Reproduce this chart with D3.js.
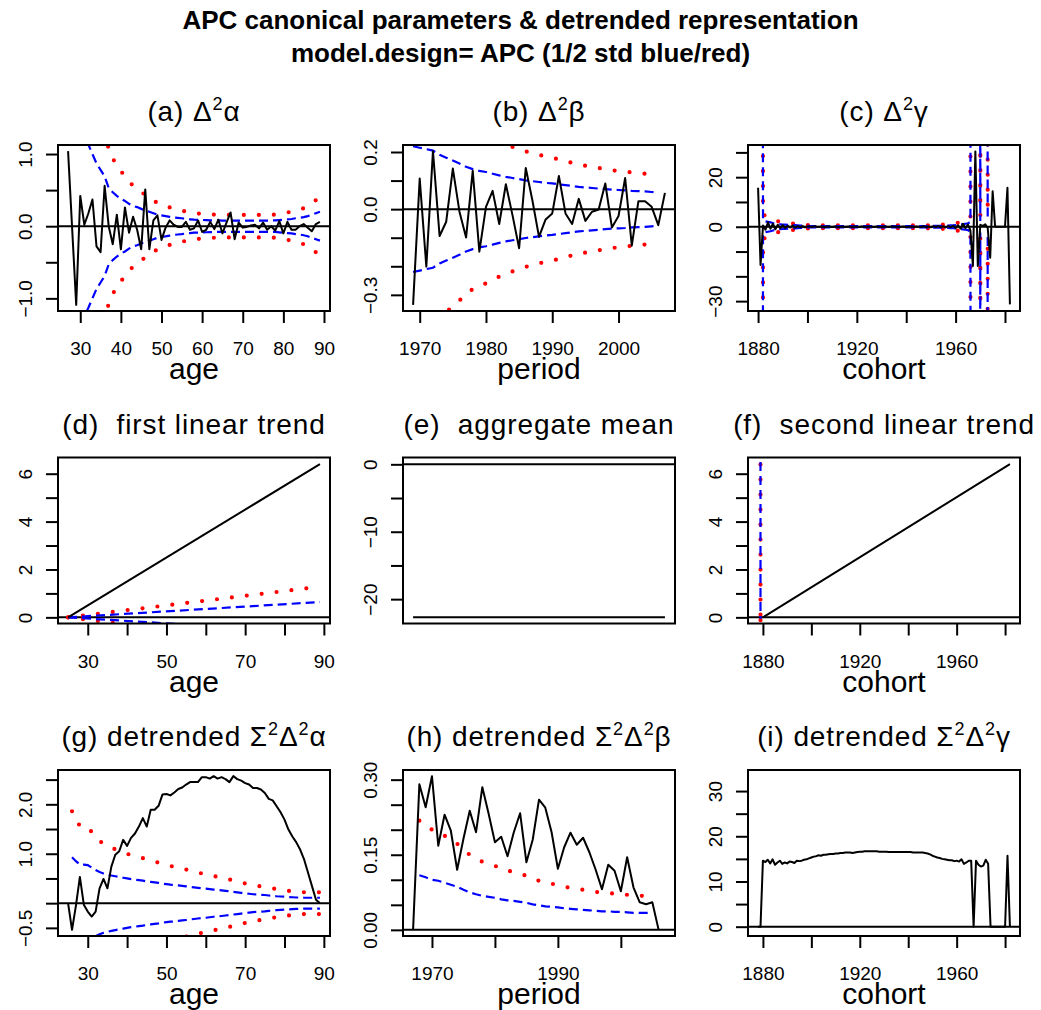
<!DOCTYPE html>
<html>
<head>
<meta charset="utf-8">
<script src="https://cdn.jsdelivr.net/npm/d3@7"></script>
<style>
body { margin: 0; background: #fff; }
svg { font-family: "Liberation Sans", Arial, Helvetica, sans-serif; }
text { white-space: pre; }
</style>
</head>
<body>
<script>
// values

// (a) double differences of age effect, ages 27..89
var agesA = d3.range(27, 90)
var dAlpha = [1.04, -0.03, -1.09, 0.42, 0.02, 0.18, 0.37, -0.28, -0.36, 0.56,
    0.0, -0.25, 0.16, -0.32, 0.26, -0.09, 0.13, -0.05, -0.32, 0.51,
    -0.32, 0.08, 0.15, -0.19, -0.02, 0.08, 0.02, -0.01, -0.01, 0.06,
    -0.05, -0.03, 0.08, -0.08, -0.05, 0.06, -0.04, 0.09, -0.10, 0.05,
    0.19, -0.18, 0.05, -0.02, -0.01, 0.01, 0.02, -0.03, 0.05, -0.05,
    0.0, -0.06, 0.07, -0.10, 0.06, -0.05, -0.05, 0.0, 0.03, -0.02,
    -0.07, 0.03, 0.06]
var sdAlpha = [2.5, 2.0, 1.6, 1.4, 1.25, 1.13, 1.0, 0.87, 0.78, 0.69,
    0.53, 0.47, 0.42, 0.38, 0.35, 0.31, 0.28, 0.265, 0.24, 0.215,
    0.2, 0.18, 0.16, 0.15, 0.14, 0.13, 0.12, 0.115, 0.11, 0.1,
    0.095, 0.09, 0.088, 0.086, 0.084, 0.082, 0.08, 0.08, 0.078, 0.078,
    0.078, 0.078, 0.078, 0.078, 0.078, 0.078, 0.078, 0.078, 0.078, 0.078,
    0.079, 0.08, 0.085, 0.09, 0.095, 0.1, 0.11, 0.115, 0.125, 0.14,
    0.16, 0.18, 0.2]

// (b) period, 1969..2007
var periodsB = d3.range(1969, 2008)
var dBeta = [-0.335, 0.107, -0.201, 0.203, -0.094, -0.044, 0.142, -0.009, -0.099, 0.134,
    -0.149, 0.008, 0.064, -0.052, 0.087, -0.021, -0.137, 0.144, 0.031, -0.097,
    -0.036, -0.015, 0.116, -0.015, -0.052, 0.036, -0.041, -0.009, -0.001, 0.09,
    -0.064, -0.024, 0.109, -0.128, 0.028, 0.028, 0.008, -0.056, 0.057]
var sdPeriodsB = d3.range(1969, 2007)
var sdBeta = [0.22, 0.215, 0.21, 0.205, 0.19, 0.18, 0.17, 0.16, 0.148, 0.14,
    0.134, 0.13, 0.124, 0.118, 0.113, 0.109, 0.105, 0.101, 0.098, 0.095,
    0.092, 0.09, 0.087, 0.084, 0.081, 0.078, 0.076, 0.074, 0.072, 0.07,
    0.068, 0.067, 0.066, 0.064, 0.063, 0.062, 0.06, 0.058]

// (c) cohort, 1880..1982
var cohortsC = d3.range(1880, 1983)
var dGamma = [15.7, -15.4, 0.5, -1.2, 1.8, -0.8, 1.2, -1.0, 0.8, -0.6,
    0.7, -0.5, 0.4, -0.3, 0.5, -0.4, 0.3, -0.2, 0.2, -0.2, 0.1,
    0.1, -0.1, 0.2, -0.1, 0.0, 0.1, -0.2, 0.1, 0.0, -0.1,
    0.1, 0.0, -0.1, 0.1, -0.1, 0.0, 0.1, -0.1, 0.1, 0.0,
    -0.1, 0.1, 0.0, -0.1, 0.1, 0.0, -0.1, 0.1, 0.0, -0.1,
    0.1, 0.0, -0.1, 0.1, 0.0, 0.1, -0.1, 0.0, 0.1, -0.1,
    0.0, 0.1, -0.1, 0.1, 0.0, -0.1, 0.2, -0.1, 0.1, -0.2,
    0.2, -0.1, 0.3, -0.2, 0.2, -0.3, 0.3, -0.2, 0.4,
    -0.5, 0.6, -0.8, 1.2, -0.6, 0.9, -1.5, -15.8, 30.4, -15.8,
    0.8, 0.3, 1.0, -0.5, -12.5, 14.3, 0, 0, 0, 0,
    0, 15.7, -31.3]
// 1000 stands for the exploding std the reference shows as vertical lines
var sdCohortsC = d3.range(1880, 1974)
var sdGamma = [1000, 1000, 2.5, 2.2, 2.0, 1.8, 1.5, 1.3, 1.1, 1.0, 0.9,
    0.85, 0.8, 0.72, 0.66, 0.62, 0.58, 0.5, 0.45, 0.4, 0.35,
    0.3, 0.29, 0.28, 0.28, 0.28, 0.28, 0.28, 0.28, 0.28, 0.28,
    0.28, 0.28, 0.28, 0.28, 0.28, 0.28, 0.28, 0.28, 0.28, 0.28,
    0.28, 0.28, 0.28, 0.28, 0.28, 0.28, 0.28, 0.28, 0.28, 0.28,
    0.28, 0.28, 0.28, 0.28, 0.28, 0.28, 0.28, 0.28, 0.28, 0.28,
    0.28, 0.28, 0.28, 0.28, 0.28, 0.28, 0.29, 0.3, 0.31, 0.32,
    0.34, 0.36, 0.38, 0.4, 0.43, 0.46, 0.5, 0.55, 0.6, 0.7,
    0.8, 0.9, 1.05, 1.2, 1.35, 2.0, 1000, 1000, 1000, 2.3,
    1000, 1000, 2.5]

// (d) first linear trend
var trendAgeX = [25, 89]
var trendAgeY = [0, 6.4]
var trendAgeSd = [0, 0.64]

// (e) aggregate mean
var meanX = [1969, 2007]
var meanY = [-22.7, -22.7]

// (f) second linear trend
var trendCohX = [1880, 1982]
var trendCohY = [0, 6.4]
var trendCohSdX = [1878, 1879]
var trendCohSd = [1000, 0]

// (g) detrended age, 25..89
var agesG = d3.range(25, 90)
var detAlpha = [0, -0.54, -0.05, 0.53, -0.03,
    -0.17, -0.27, -0.17, 0.30, 0.49, 0.30, 0.74, 0.98, 1.05, 1.28,
    1.16, 1.32, 1.41, 1.55, 1.72, 1.55, 1.89, 1.89, 1.97, 2.20,
    2.21, 2.18, 2.24, 2.31, 2.34, 2.40, 2.45, 2.45, 2.45, 2.55,
    2.55, 2.52, 2.57, 2.52, 2.55, 2.51, 2.45, 2.57, 2.51, 2.48,
    2.43, 2.40, 2.33, 2.33, 2.30, 2.23, 2.11, 2.08, 1.96, 1.84,
    1.69, 1.49, 1.35, 1.23, 1.08, 0.88, 0.61, 0.34, 0.07, 0]
var sdAgesG = d3.range(26, 90)
var sdDetAlpha = [0.93, 0.85, 0.78, 0.78,
    0.77, 0.72, 0.67, 0.63, 0.6, 0.58, 0.56, 0.545, 0.53, 0.515,
    0.5, 0.485, 0.475, 0.465, 0.455, 0.44, 0.43, 0.42, 0.41, 0.395,
    0.385, 0.375, 0.37, 0.36, 0.35, 0.34, 0.33, 0.32, 0.31, 0.3,
    0.295, 0.285, 0.275, 0.265, 0.26, 0.25, 0.24, 0.23, 0.22, 0.21,
    0.2, 0.19, 0.18, 0.175, 0.17, 0.165, 0.155, 0.15, 0.14, 0.135,
    0.13, 0.125, 0.12, 0.115, 0.115, 0.11, 0.11, 0.11, 0.11, 0.11]

// (h) detrended period, 1967..2006
var periodsH = d3.range(1967, 2007)
var detBeta = [0, 0.291, 0.245, 0.307, 0.168, 0.230, 0.198, 0.120, 0.182, 0.238,
    0.195, 0.285, 0.232, 0.175, 0.186, 0.147, 0.195, 0.233, 0.135, 0.180,
    0.26, 0.244, 0.195, 0.122, 0.165, 0.194, 0.170, 0.184, 0.155, 0.120,
    0.081, 0.130, 0.118, 0.077, 0.145, 0.085, 0.055, 0.051, 0.055, 0]
var sdPeriodsH = d3.range(1968, 2006)
var sdDetBeta = [0.109, 0.105, 0.1, 0.098, 0.094, 0.09, 0.086, 0.08, 0.075, 0.071,
    0.068, 0.066, 0.064, 0.061, 0.059, 0.058, 0.056, 0.054, 0.051, 0.049,
    0.047, 0.046, 0.045, 0.043, 0.042, 0.041, 0.04, 0.039, 0.038, 0.037,
    0.037, 0.036, 0.036, 0.035, 0.034, 0.034, 0.034, 0.034]

// (i) detrended cohort, 1878..1982
var cohortsI = d3.range(1878, 1983)
var detGamma = [0, 0, 14.6, 14.3, 14.8, 14.0, 14.9, 13.7, 14.2, 14.6, 13.9, 14.2,
    14.0, 14.4, 14.3, 14.1, 14.6, 14.5, 14.6, 14.8, 14.9, 15.1,
    15.3, 15.5, 15.6, 15.8, 15.7, 15.9, 15.9, 16.0, 16.1, 16.1,
    16.2, 16.2, 16.3, 16.3, 16.4, 16.4, 16.4, 16.3, 16.4, 16.5,
    16.6, 16.6, 16.7, 16.7, 16.7, 16.7, 16.7, 16.7, 16.6, 16.6,
    16.6, 16.6, 16.5, 16.5, 16.5, 16.5, 16.5, 16.5, 16.5, 16.5,
    16.5, 16.5, 16.4, 16.4, 16.4, 16.4, 16.4, 16.3, 16.2, 16.0,
    15.7, 15.5, 15.3, 15.2, 15.0, 14.9, 14.8, 14.7, 14.7, 14.5,
    14.6, 14.4, 14.9, 13.9, 14.2, 14.6, 14.6, 0, 14.6, 13.7,
    13.3, 13.5, 14.8, 13.9, 0, 0, 0, 0, 0, 0,
    0, 15.7, 0]

// axis ticks and labels (R drops some labels, so blanks are kept)
var ageTicks = [30, 40, 50, 60, 70, 80, 90]
var ageLabelsAll = ['30', '40', '50', '60', '70', '80', '90']
var ageLabelsSome = ['30', '', '50', '', '70', '', '90']
var periodTicks = [1970, 1980, 1990, 2000]
var periodLabelsAll = ['1970', '1980', '1990', '2000']
var periodLabelsSome = ['1970', '', '1990', '']
var cohortTicks = [1880, 1900, 1920, 1940, 1960, 1980]
var cohortLabels = ['1880', '', '1920', '', '1960', '']

var panels = [
    { title: [['(a) Δ', 0], ['2', 1], ['α', 0]], xlab: 'age',
      xlim: [27, 89], ylim: [-1.09, 1.04],
      xt: ageTicks, xl: ageLabelsAll,
      yt: [-1, -0.5, 0, 0.5, 1], yl: ['−1.0', '', '0.0', '', '1.0'],
      x: agesA, y: dAlpha, sdx: agesA, sd: sdAlpha },
    { title: [['(b) Δ', 0], ['2', 1], ['β', 0]], xlab: 'period',
      xlim: [1969, 2007], ylim: [-0.335, 0.203],
      xt: periodTicks, xl: periodLabelsAll,
      yt: [-0.3, -0.2, -0.1, 0, 0.1, 0.2], yl: ['−0.3', '', '', '0.0', '', '0.2'],
      x: periodsB, y: dBeta, sdx: sdPeriodsB, sd: sdBeta },
    { title: [['(c) Δ', 0], ['2', 1], ['γ', 0]], xlab: 'cohort',
      xlim: [1880, 1982], ylim: [-31.5, 30.5],
      xt: cohortTicks, xl: cohortLabels,
      yt: [-30, -20, -10, 0, 10, 20, 30], yl: ['−30', '', '', '0', '', '20', ''],
      x: cohortsC, y: dGamma, sdx: sdCohortsC, sd: sdGamma },
    { title: [['(d)  first linear trend', 0]], xlab: 'age',
      xlim: [25, 89], ylim: [0, 6.42],
      xt: ageTicks, xl: ageLabelsSome,
      yt: [0, 1, 2, 3, 4, 5, 6], yl: ['0', '', '2', '', '4', '', '6'],
      x: trendAgeX, y: trendAgeY, sdx: trendAgeX, sd: trendAgeSd },
    { title: [['(e)  aggregate mean', 0]], xlab: null,
      xlim: [1969, 2007], ylim: [-22.7, 0.1],
      yt: [-20, -15, -10, -5, 0], yl: ['−20', '', '−10', '', '0'],
      x: meanX, y: meanY },
    { title: [['(f)  second linear trend', 0]], xlab: 'cohort',
      xlim: [1878, 1982], ylim: [0, 6.42],
      xt: cohortTicks, xl: cohortLabels,
      yt: [0, 1, 2, 3, 4, 5, 6], yl: ['0', '', '2', '', '4', '', '6'],
      x: trendCohX, y: trendCohY, sdx: trendCohSdX, sd: trendCohSd },
    { title: [['(g) detrended Σ', 0], ['2', 1], ['Δ', 0], ['2', 1], ['α', 0]], xlab: 'age',
      xlim: [25, 89], ylim: [-0.54, 2.57],
      xt: ageTicks, xl: ageLabelsSome,
      yt: [-0.5, 0, 0.5, 1, 1.5, 2, 2.5], yl: ['−0.5', '', '', '1.0', '', '2.0', ''],
      x: agesG, y: detAlpha, sdx: sdAgesG, sd: sdDetAlpha },
    { title: [['(h) detrended Σ', 0], ['2', 1], ['Δ', 0], ['2', 1], ['β', 0]], xlab: 'period',
      xlim: [1967, 2007], ylim: [0, 0.307],
      xt: periodTicks, xl: periodLabelsSome,
      yt: [0, 0.05, 0.1, 0.15, 0.2, 0.25, 0.3], yl: ['0.00', '', '', '0.15', '', '', '0.30'],
      x: periodsH, y: detBeta, sdx: sdPeriodsH, sd: sdDetBeta },
    { title: [['(i) detrended Σ', 0], ['2', 1], ['Δ', 0], ['2', 1], ['γ', 0]], xlab: 'cohort',
      xlim: [1878, 1982], ylim: [-0.7, 33.3],
      xt: cohortTicks, xl: cohortLabels,
      yt: [0, 5, 10, 15, 20, 25, 30], yl: ['0', '', '10', '', '20', '', '30'],
      x: cohortsI, y: detGamma }
]

var width = 1041, height = 1010
var boxLeft = 58, boxTop = 145, boxW = 272, boxH = 166
var colStep = 345, rowStep = 312.5

var svg = d3.select('body').append('svg')
    .attr('width', width)
    .attr('height', height)

// main title, two lines
svg.append('text').attr('x', 520.5).attr('y', 29)
    .attr('text-anchor', 'middle').attr('font-size', 26).attr('font-weight', 'bold')
    .text('APC canonical parameters & detrended representation')
svg.append('text').attr('x', 520.5).attr('y', 62)
    .attr('text-anchor', 'middle').attr('font-size', 26).attr('font-weight', 'bold')
    .text('model.design= APC (1/2 std blue/red)')

function translate(x, y) {
    return 'translate(' + x + ',' + y + ')'
}

// R style 4% padding round the range
function pad4(lim) {
    var d = (lim[1] - lim[0]) * 0.04
    return [lim[0] - d, lim[1] + d]
}

function drawPanel(p, i) {
    var col = i % 3, row = Math.floor(i / 3)
    var g = svg.append('g').attr('transform', translate(boxLeft + colStep * col, boxTop + rowStep * row))

    var sx = d3.scaleLinear().domain(pad4(p.xlim)).range([0, boxW])
    var sy = d3.scaleLinear().domain(pad4(p.ylim)).range([boxH, 0])

    g.append('clipPath').attr('id', 'clip' + i)
        .append('rect').attr('width', boxW).attr('height', boxH)
    var plot = g.append('g').attr('clip-path', 'url(#clip' + i + ')')

    // zero line
    plot.append('line')
        .attr('x1', 0).attr('x2', boxW)
        .attr('y1', sy(0)).attr('y2', sy(0))
        .attr('stroke', 'black').attr('stroke-width', 2)

    // 1 std (blue) and 2 std (red) bands
    if (p.sd) {
        [1, -1].forEach(function(sign) {
            var blue = d3.line()
                .x(function(d, k) { return sx(p.sdx[k]) })
                .y(function(d) { return sy(sign * d) })
            var red = d3.line()
                .x(function(d, k) { return sx(p.sdx[k]) })
                .y(function(d) { return sy(sign * 2 * d) })
            plot.append('path').attr('d', red(p.sd))
                .attr('fill', 'none').attr('stroke', '#ff0000')
                .attr('stroke-width', 4.2).attr('stroke-linecap', 'round')
                .attr('stroke-dasharray', '0 15')
            plot.append('path').attr('d', blue(p.sd))
                .attr('fill', 'none').attr('stroke', '#0000ff')
                .attr('stroke-width', 2.2).attr('stroke-dasharray', '9 5')
        })
    }

    var line = d3.line()
        .x(function(d, k) { return sx(p.x[k]) })
        .y(function(d) { return sy(d) })
    plot.append('path').attr('d', line(p.y))
        .attr('fill', 'none').attr('stroke', 'black')
        .attr('stroke-width', 2).attr('stroke-linejoin', 'round')

    // box
    g.append('rect').attr('width', boxW).attr('height', boxH)
        .attr('fill', 'none').attr('stroke', 'black').attr('stroke-width', 2)

    // y axis, labels turned like R does
    var yAxis = d3.axisLeft(sy).tickValues(p.yt)
        .tickFormat(function(d, k) { return p.yl[k] })
        .tickSize(12)
    var yg = g.append('g').call(yAxis).attr('font-family', null)
    yg.select('.domain').remove()
    yg.selectAll('.tick line').attr('stroke-width', 2)
    yg.selectAll('.tick text')
        .attr('x', 0).attr('y', -26).attr('dy', null)
        .attr('transform', 'rotate(-90)')
        .attr('text-anchor', 'middle')
        .attr('font-size', 19).attr('fill', 'black')

    if (p.xt) {
        var xAxis = d3.axisBottom(sx).tickValues(p.xt)
            .tickFormat(function(d, k) { return p.xl[k] })
            .tickSize(12)
        var xg = g.append('g').attr('transform', translate(0, boxH)).call(xAxis)
            .attr('font-family', null)
        xg.select('.domain').remove()
        xg.selectAll('.tick line').attr('stroke-width', 2)
        xg.selectAll('.tick text')
            .attr('y', 44).attr('dy', null)
            .attr('font-size', 19).attr('fill', 'black')
    }

    if (p.xlab) {
        g.append('text').attr('x', boxW / 2).attr('y', boxH + 68)
            .attr('text-anchor', 'middle').attr('font-size', 30)
            .text(p.xlab)
    }

    // title with superscripts
    var t = g.append('text').attr('x', boxW / 2).attr('y', -24)
        .attr('text-anchor', 'middle').attr('font-size', 28)
        .attr('letter-spacing', 0.9)
    var up = false
    p.title.forEach(function(part) {
        var ts = t.append('tspan').text(part[0])
        if (part[1] == 1) {
            ts.attr('font-size', 18).attr('dy', -11)
            up = true
        } else if (up) {
            ts.attr('dy', 11)
            up = false
        }
    })
}

panels.forEach(drawPanel)
</script>
</body>
</html>
